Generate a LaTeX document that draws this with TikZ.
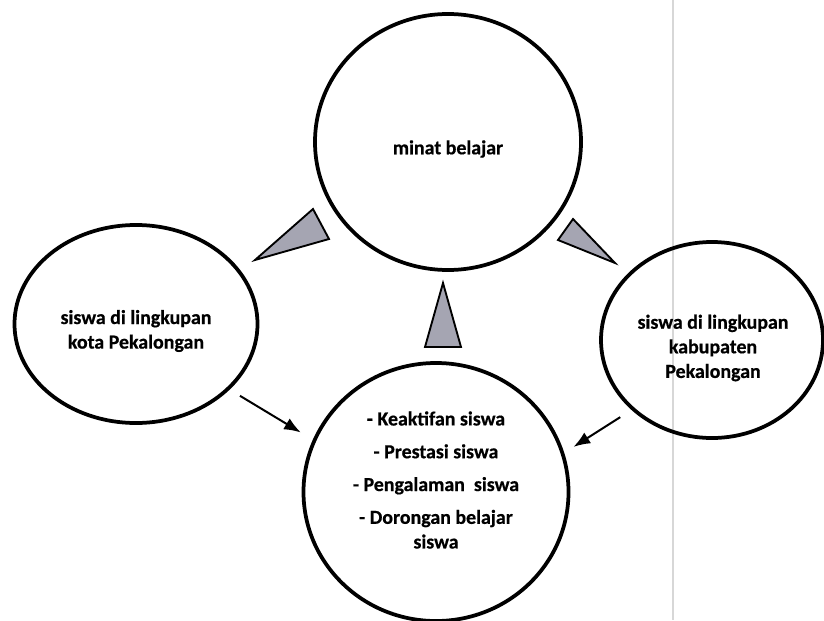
\documentclass[tikz,border=0pt]{standalone}
\usepackage{fontspec}
\setmainfont{Carlito}[BoldFeatures={FakeBold=0.6}]
\usetikzlibrary{shapes.geometric, arrows.meta, positioning}
\definecolor{abu}{RGB}{165,165,178}
\definecolor{garisscan}{RGB}{215,215,215}

\begin{document}
\begin{tikzpicture}[x=0.03cm, y=-0.03cm,
        bulat/.style={ellipse, draw, line width=3.2pt, inner sep=0pt},
        teks/.style={align=center, font=\fontsize{17}{21}\selectfont\bfseries},
        segitiga/.style={draw, line width=1.6pt, line join=miter, fill=abu},
        panah/.style={-{Latex[length=5mm, width=3.8mm]}, line width=1.7pt}]

        %\draw[help lines, step=50] (0, 0) grid (824, 620);
        \useasboundingbox (0, 0) rectangle (824, 620);

        \draw[garisscan, line width=1.4pt] (673, 0) -- (673, 620);

        \node[bulat, minimum width=7.98cm, minimum height=7.68cm] (minat) at (448, 142) {};
        \node[bulat, minimum width=7.29cm, minimum height=5.94cm] (kota) at (136, 324) {};
        \node[bulat, minimum width=6.66cm, minimum height=5.88cm] (kabupaten) at (712, 340) {};
        \node[bulat, minimum width=7.95cm, minimum height=7.74cm] (pengaruh) at (436, 492) {};

        \node[teks] (minat-teks) at (448, 149) {minat belajar};
        \node[teks] (kota-teks) at (136, 331) {siswa di lingkupan\\kota Pekalongan};
        \node[teks] (kabupaten-teks) at (713, 348) {siswa di lingkupan\\kabupaten\\Pekalongan};
        \node[teks] (pengaruh-teks) at (436, 480)
                {- Keaktifan siswa\\[7pt] - Prestasi siswa\\[7pt] - Pengalaman~ siswa\\[7pt] - Dorongan belajar\\siswa};

        \draw[segitiga] (255, 260) -- (313, 209) -- (329, 239) -- cycle;
        \draw[segitiga] (558, 240) -- (573, 219) -- (615, 263) -- cycle;
        \draw[segitiga] (443, 283) -- (425, 347) -- (461, 347) -- cycle;

        \draw[panah, shorten <=0.36cm, shorten >=0.42cm] (kota.-35) -- (pengaruh.157);
        \draw[panah, shorten <=0.4cm, shorten >=0.33cm] (kabupaten.221) -- (pengaruh.17);
      \end{tikzpicture}
\end{document}
